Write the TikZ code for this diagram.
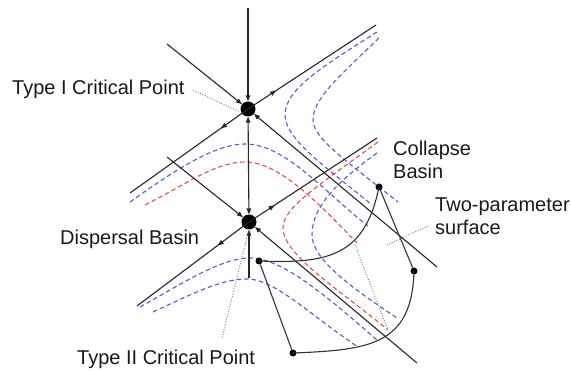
\documentclass[tikz,border=0pt]{standalone}
\usepackage{fontspec}
\setmainfont{Liberation Sans}
\usetikzlibrary{arrows.meta,decorations.markings}
\definecolor{cb}{RGB}{85,85,240}
\definecolor{cr}{RGB}{250,70,70}
\begin{document}
\begin{tikzpicture}[x=1pt,y=-1pt,
  crit/.style={circle,fill=black,inner sep=0pt,minimum size=15pt},
  sdot/.style={circle,fill=black,inner sep=0pt,minimum size=7pt},
  axis/.style={draw=black!85,line width=1.1pt},
  tipin/.style={-{Triangle[length=6pt,width=4.5pt]}},
  midarrow/.style={postaction={decorate},decoration={markings,mark=at position #1 with {\arrow{Triangle[length=6pt,width=4.5pt]}}}},
  bdash/.style={draw=cb,line width=1.1pt,dash pattern=on 4.5pt off 3pt},
  rdash/.style={draw=cr,line width=1.1pt,dash pattern=on 4.5pt off 3pt},
  lead/.style={draw=gray,line width=0.9pt,dash pattern=on 1pt off 1.6pt},
  surf/.style={draw=black!80,line width=1.1pt},
  lbl/.style={font=\fontsize{20}{23}\selectfont,inner sep=0pt,text=black!90,align=left}
]
\useasboundingbox (0,0) rectangle (571,371);

% dashed contour curves
\draw[bdash] (377,32) .. controls (320,68) and (285,90) .. (285,115) .. controls (285,140) and (330,170) .. (372,205);
\draw[bdash] (379,38) .. controls (335,80) and (313,100) .. (313,120) .. controls (313,138) and (345,160) .. (398,202);
\draw[bdash] (130,202) .. controls (175,170) and (215,144) .. (245,144) .. controls (285,144) and (322,190) .. (368,226);
\draw[rdash] (145,205) .. controls (185,185) and (215,162) .. (245,162) .. controls (280,162) and (320,205) .. (357,243);
\draw[rdash] (378,142) .. controls (315,188) and (283,208) .. (283,228) .. controls (283,255) and (340,290) .. (388,330);
\draw[bdash] (377,153) .. controls (340,180) and (312,205) .. (312,235) .. controls (312,260) and (355,290) .. (397,318);
\draw[bdash] (140,307) .. controls (180,285) and (220,258) .. (250,258) .. controls (280,258) and (320,290) .. (377,340);
\draw[bdash] (153,312) .. controls (190,295) and (220,279) .. (247,279) .. controls (275,279) and (310,315) .. (358,347);

% critical points
\node[crit] (P1) at (248,109) {};
\node[crit] (P2) at (249,222) {};

\coordinate (vtop) at (248,8);
\coordinate (vbot) at (249,278);
\coordinate (nw1) at (167,44);
\coordinate (se1) at (437,267);
\coordinate (ne1) at (376,25);
\coordinate (sw1) at (130,193);
\coordinate (nw2) at (167,157);
\coordinate (se2) at (417,363);
\coordinate (ne2) at (377,138);
\coordinate (sw2) at (137,306);

\draw[axis,tipin] (vtop) -- (P1);
\draw[axis,{Triangle[length=6pt,width=4.5pt]}-{Triangle[length=6pt,width=4.5pt]}] (P1) -- (P2);
\draw[axis,tipin] (vbot) -- (P2);
\draw[axis,tipin] (nw1) -- (P1);
\draw[axis,tipin] (se1) -- (P1);
\draw[axis,midarrow=0.22] (P1.center) -- (ne1);
\draw[axis,midarrow=0.23] (P1.center) -- (sw1);
\draw[axis,tipin] (nw2) -- (P2);
\draw[axis,tipin] (se2) -- (P2);
\draw[axis,midarrow=0.2] (P2.center) -- (ne2);
\draw[axis,midarrow=0.28] (P2.center) -- (sw2);

% two-parameter surface
\node[sdot] (Q1) at (259,261) {};
\node[sdot] (Q2) at (379,187) {};
\node[sdot] (Q3) at (414,271) {};
\node[sdot] (Q4) at (293,353) {};
\draw[surf] (Q1.center) .. controls (330,264) and (365,255) .. (Q2.center);
\draw[surf] (Q2) -- (Q3);
\draw[surf] (Q1) -- (Q4);
\draw[surf] (Q4.center) .. controls (370,350) and (412,345) .. (Q3.center);

% labels
\node[lbl,anchor=base west] (t1) at (12,95) {Type I Critical Point};
\node[lbl,anchor=base west] (db) at (60,245) {Dispersal Basin};
\node[lbl,anchor=base west] (t2) at (77,365) {Type II Critical Point};
\node[lbl,anchor=north west] (cb) at (393,140.7) {Collapse\\Basin};
\node[lbl,anchor=north west] (tp) at (435,197.7) {Two-parameter\\surface};

% leader lines
\coordinate (l1a) at (193,90);
\coordinate (l1b) at (240,112);
\draw[lead] (l1a) -- (l1b);
\coordinate (l2a) at (248,233);
\coordinate (l2b) at (222,338);
\draw[lead] (l2a) -- (l2b);
\coordinate (l3a) at (428,226);
\coordinate (l3b) at (387,245);
\draw[lead] (l3a) -- (l3b);
\coordinate (l4a) at (355,245);
\coordinate (l4b) at (388,330);
\draw[lead] (l4a) -- (l4b);
\end{tikzpicture}
\end{document}
